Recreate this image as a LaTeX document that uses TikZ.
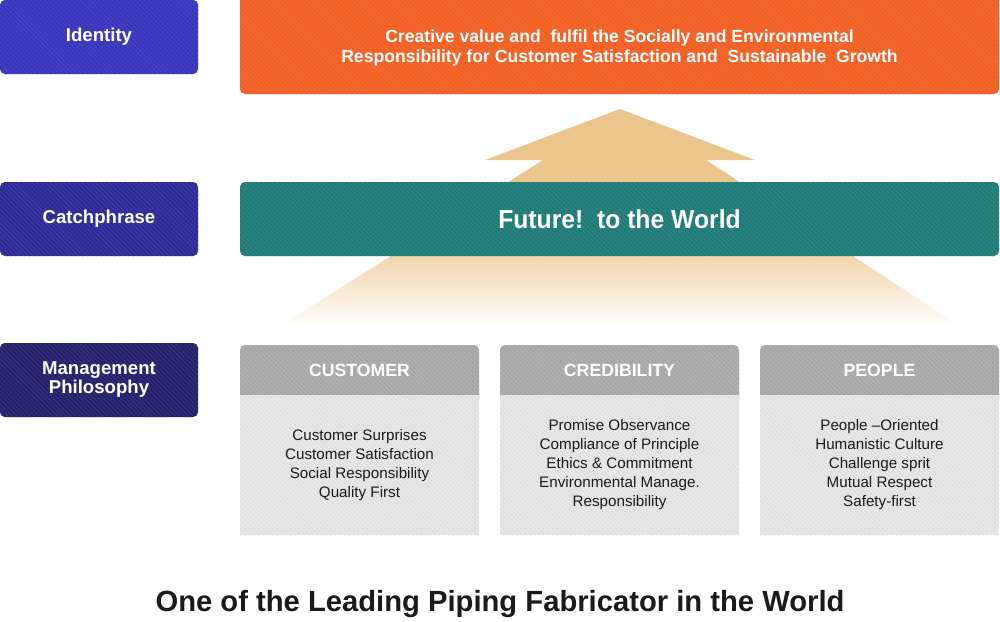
\documentclass[tikz,border=0pt]{standalone}
\usepackage{fontspec}
\setmainfont{Liberation Sans}
\usetikzlibrary{patterns.meta}
\definecolor{cIdent}{HTML}{3935BC}
\definecolor{cCatch}{HTML}{2D2A98}
\definecolor{cMgmt}{HTML}{23216C}
\definecolor{cOrange}{HTML}{F26024}
\definecolor{cTeal}{HTML}{1E7B77}
\definecolor{cTan}{HTML}{ECC58C}
\definecolor{cHead}{HTML}{A6A6A6}
\definecolor{cBody}{HTML}{E0E0E0}
\definecolor{cText}{HTML}{1A1A1A}
\tikzset{
  hatch/.style={postaction={pattern={Lines[angle=-45,distance=1.6pt,line width=0.4pt]},pattern color=#1}},
  lbox/.style={rectangle,rounded corners=2.5pt,minimum width=99pt,minimum height=37pt,inner sep=0pt,
    text=white,align=center,font=\bfseries\fontsize{9.3}{9}\selectfont},
  bigbox/.style={rectangle,rounded corners=2.5pt,minimum width=379.5pt,inner sep=0pt},
  headbox/.style={rectangle,rounded corners=2.5pt,fill=cHead,minimum width=119.5pt,minimum height=30pt,inner sep=0pt,hatch=cHead!82!white},
  bodybox/.style={rectangle,fill=cBody,minimum width=119.5pt,minimum height=70pt,inner sep=0pt,hatch=cBody!55!white,
    text=cText,align=center,font=\fontsize{7.6}{9.5}\selectfont},
  headtxt/.style={text=white,font=\bfseries\fontsize{8.85}{10}\selectfont,inner sep=0pt},
}
\begin{document}
\begin{tikzpicture}[x=0.5pt,y=-0.5pt]
\useasboundingbox (0,0) rectangle (1000,621);
% left labels
\node[lbox,fill=cIdent,hatch=cIdent!91!white] (identity) at (99,37) {Identity};
\node[lbox,fill=cCatch,hatch=cCatch!90!white] (catch) at (99,219) {Catchphrase};
\node[lbox,fill=cMgmt,hatch=cMgmt!90!white] (mgmt) at (99,380) {\raisebox{-1pt}{\begin{tabular}{@{}c@{}}Management\\Philosophy\end{tabular}}};
% arrow
\begin{scope}
\clip (620,109) -- (755,160) -- (706,160) -- (963,328) -- (277,328) -- (543,160) -- (485,160) -- cycle;
\fill[cTan] (270,100) rectangle (970,257);
\shade[top color=cTan!72!white,bottom color=white] (270,256) rectangle (970,328);
\end{scope}
% identity box
\node[bigbox,fill=cOrange,hatch=cOrange!91!white,minimum height=52pt] (identbox) at (619.5,42) {};
\node[text=white,align=center,font=\bfseries\fontsize{8.8}{10}\selectfont] (identtxt) at (619.5,48)
  {Creative value and\ \ fulfil the Socially and Environmental\\Responsibility for Customer Satisfaction and\ \ Sustainable\ \ Growth};
% catchphrase box
\node[bigbox,fill=cTeal,hatch=cTeal!90!white,minimum height=37pt,text=white,font=\bfseries\fontsize{13}{14}\selectfont] (catchbox) at (619.5,219)
  {\scalebox{0.95}[1]{Future!\ \ to the World}};
% philosophy boxes
\node[headbox] (custH) at (359.5,375) {};
\node[bodybox] (custB) at (359.5,465) {Customer Surprises\\Customer Satisfaction\\Social Responsibility\\Quality First};
\node[headtxt] (custT) at (359.5,370) {CUSTOMER};
\node[headbox] (credH) at (619.5,375) {};
\node[bodybox] (credB) at (619.5,465) {Promise Observance\\Compliance of Principle\\Ethics \& Commitment\\Environmental Manage.\\Responsibility};
\node[headtxt] (credT) at (619.5,370) {CREDIBILITY};
\node[headbox] (peopH) at (879.5,375) {};
\node[bodybox] (peopB) at (879.5,465) {People --Oriented\\Humanistic Culture\\Challenge sprit\\Mutual Respect\\Safety-first};
\node[headtxt] (peopT) at (879.5,370) {PEOPLE};
% title
\node[text=cText,font=\bfseries\fontsize{14.6}{16}\selectfont] (title) at (500,604) {One of the Leading Piping Fabricator in the World};
\end{tikzpicture}
\end{document}
